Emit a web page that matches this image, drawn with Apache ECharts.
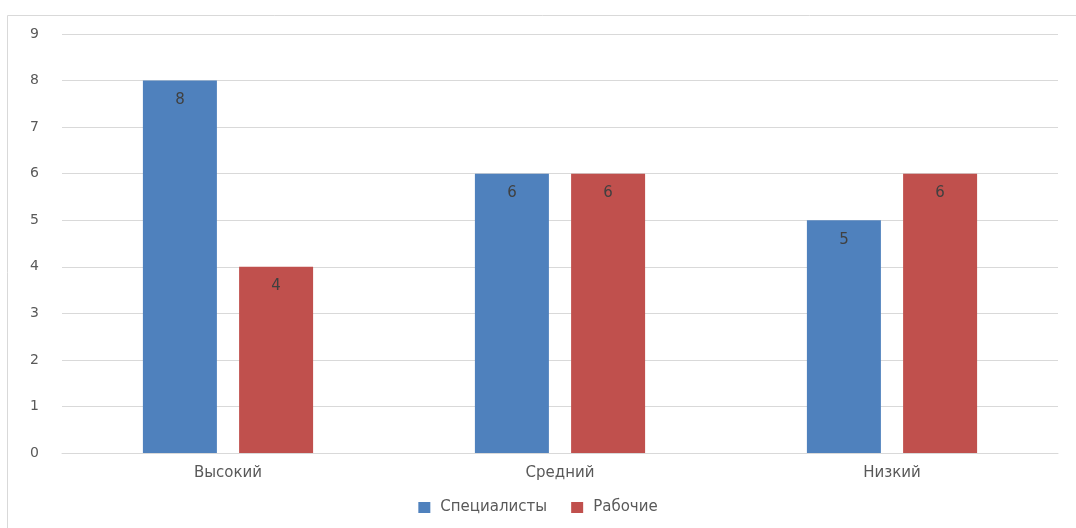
<!DOCTYPE html>
<html><head><meta charset="utf-8">
<script src="https://cdn.jsdelivr.net/npm/echarts@6/dist/echarts.min.js"></script>
<style>html,body{margin:0;padding:0;background:#fff}#c{width:1076px;height:528px}</style>
</head><body><div id="c"></div>
<script>
var categories = ['Высокий', 'Средний', 'Низкий'];
var seriesNames = ['Специалисты', 'Рабочие'];
var specialists = [8, 6, 5];
var workers = [4, 6, 6];
var yTicks = [0, 9, 1];

var chart = echarts.init(document.getElementById('c'));
var font = '"DejaVu Sans", "Open Sans", sans-serif';
chart.setOption({
  animation: false,
  textStyle: { fontFamily: font },
  graphic: [{
    type: 'rect', shape: { x: 7.5, y: 15.5, width: 1100, height: 600 },
    style: { fill: 'none', stroke: '#d9d9d9', lineWidth: 1 }, silent: true
  }],
  grid: { left: 62, right: 18, top: 34, bottom: 75, containLabel: false },
  legend: {
    bottom: 8, left: 'center', itemWidth: 12, itemHeight: 11, itemGap: 24,
    icon: 'rect',
    textStyle: { color: '#595959', fontSize: 15, fontFamily: font, padding: [0, 0, 0, 5] },
    data: seriesNames
  },
  xAxis: {
    type: 'category', data: categories,
    axisLine: { lineStyle: { color: '#d9d9d9', width: 1 } },
    axisTick: { show: false },
    axisLabel: { color: '#595959', fontSize: 15, margin: 13, fontFamily: font }
  },
  yAxis: {
    type: 'value', min: yTicks[0], max: yTicks[1], interval: yTicks[2],
    axisLine: { show: false }, axisTick: { show: false },
    splitLine: { lineStyle: { color: '#d9d9d9', width: 1 } },
    axisLabel: { color: '#595959', fontSize: 14, margin: 23, fontFamily: font }
  },
  series: [
    { name: seriesNames[0], type: 'bar', data: specialists, barWidth: 74, barGap: '30%',
      itemStyle: { color: '#4F81BD' },
      label: { show: true, position: 'insideTop', distance: 12, color: '#404040', fontSize: 15, fontFamily: font } },
    { name: seriesNames[1], type: 'bar', data: workers, barWidth: 74, barGap: '30%',
      itemStyle: { color: '#C0504D' },
      label: { show: true, position: 'insideTop', distance: 12, color: '#404040', fontSize: 15, fontFamily: font } }
  ]
});
</script></body></html>
